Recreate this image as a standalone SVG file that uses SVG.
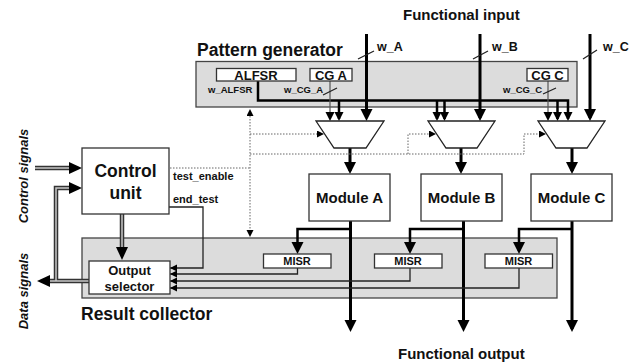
<svg xmlns="http://www.w3.org/2000/svg" width="639" height="364" viewBox="0 0 639 364">
<style>
.t{font-family:"Liberation Sans",Arial,sans-serif;font-weight:bold;fill:#111}
.grp{fill:#dcdcdc;stroke:#444;stroke-width:1.3}
.box{fill:#fff;stroke:#333;stroke-width:1.3}
.mux{fill:#fff;stroke:#222;stroke-width:1.3}
.thick{fill:none;stroke:#000;stroke-width:3}
.bus{fill:none;stroke:#000;stroke-width:2.5}
.thin{fill:none;stroke:#555;stroke-width:1.2}
.wire{fill:none;stroke:#222;stroke-width:1.3}
.dot{fill:none;stroke:#666;stroke-width:1;stroke-dasharray:1.5,1.5}
.dbo{fill:none;stroke:#333;stroke-width:4.5}
.dbi{fill:none;stroke:#c8c8c8;stroke-width:1.5}
</style>
<defs>
<marker id="aL" markerUnits="userSpaceOnUse" markerWidth="13" markerHeight="13" refX="9" refY="6" orient="auto"><path d="M0,0 L12,6 L0,12 z" fill="#000"/></marker>
<marker id="aM" markerUnits="userSpaceOnUse" markerWidth="10" markerHeight="10" refX="7" refY="4.5" orient="auto"><path d="M0,0 L9,4.5 L0,9 z" fill="#000"/></marker>
<marker id="aS" markerUnits="userSpaceOnUse" markerWidth="8" markerHeight="8" refX="7" refY="3.5" orient="auto"><path d="M0,0 L7,3.5 L0,7 z" fill="#000"/></marker>
<marker id="aD" markerUnits="userSpaceOnUse" markerWidth="8" markerHeight="8" refX="0" refY="3.5" orient="auto-start-reverse"><path d="M0,0 L7,3.5 L0,7 z" fill="#000"/></marker>
<marker id="aW" markerUnits="userSpaceOnUse" markerWidth="14" markerHeight="13" refX="0" refY="6" orient="auto"><path d="M0,0 L13,6 L0,12 z" fill="#000"/></marker>
</defs>
<rect width="639" height="364" fill="#fff"/>

<g id="pattern-generator">
<rect class="grp" x="196" y="61.5" width="381" height="45.5"/>
<text class="t" x="197" y="56" font-size="17.5">Pattern generator</text>
</g>
<g id="result-collector">
<rect class="grp" x="82" y="238" width="475" height="60"/>
<text class="t" x="81" y="320" font-size="17.5">Result collector</text>
</g>

<g id="connectors">
<!-- functional inputs -->
<path class="thick" d="M366.5,34 V118" marker-end="url(#aL)"/>
<path class="thick" d="M480,34 V118" marker-end="url(#aL)"/>
<path class="thick" d="M590,34 V118" marker-end="url(#aL)"/>
<path class="wire" d="M358,59 L374,51 M473,59 L488,51 M583,59 L597,50"/>
<!-- ALFSR bus -->
<path class="bus" d="M258,81 V100.5 H568 V119" marker-end="url(#aM)"/>
<path class="bus" d="M339,100.5 V119" marker-end="url(#aM)"/>
<path class="bus" d="M437,100.5 V119" marker-end="url(#aM)"/>
<path class="bus" d="M444.5,100.5 V119" marker-end="url(#aM)"/>
<path class="bus" d="M557.5,100.5 V119" marker-end="url(#aM)"/>
<!-- CG lines -->
<path class="thin" d="M330,81 V119" marker-end="url(#aM)"/>
<path class="thin" d="M548,81 V119" marker-end="url(#aM)"/>
<path class="wire" d="M323,95 L337,88 M543,94 L556,88"/>
<!-- mux outputs -->
<path class="thick" d="M350,148 V171" marker-end="url(#aL)"/>
<path class="thick" d="M461,148 V171" marker-end="url(#aL)"/>
<path class="thick" d="M572,148 V171" marker-end="url(#aL)"/>
<!-- module outputs -->
<path class="thick" d="M350.5,221 V329" marker-end="url(#aL)"/>
<path class="thick" d="M463.5,221 V329" marker-end="url(#aL)"/>
<path class="thick" d="M572,221 V329" marker-end="url(#aL)"/>
<path class="bus" d="M350.5,229 H297.5 V251" marker-end="url(#aL)"/>
<path class="bus" d="M463.5,229 H410 V251" marker-end="url(#aL)"/>
<path class="bus" d="M572,229 H519 V251" marker-end="url(#aL)"/>
<!-- MISR to output selector -->
<path class="wire" d="M297.5,268 V274 H170" marker-end="url(#aS)"/>
<path class="wire" d="M410,268 V281 H170" marker-end="url(#aS)"/>
<path class="wire" d="M519,268 V288 H170" marker-end="url(#aS)"/>
<path class="wire" d="M169,207 H203 V268 H170" marker-end="url(#aS)"/>
<!-- dotted control -->
<path class="dot" d="M250,116 V230" marker-start="url(#aD)" marker-end="url(#aD)"/>
<path class="dot" d="M170,168 H250"/>
<path class="dot" d="M250,134 H317" marker-end="url(#aD)"/>
<path class="dot" d="M250,154 H524 V134 H539" marker-end="url(#aD)"/>
<path class="dot" d="M408,154 V134 H429" marker-end="url(#aD)"/>
<!-- double lines -->
<path class="dbo" d="M35,168 H69" marker-end="url(#aW)"/>
<path class="dbi" d="M35,168 H69"/>
<path class="dbo" d="M56,281 V188 H69" marker-end="url(#aW)"/>
<path class="dbo" d="M89,281 H50" marker-end="url(#aW)"/>
<path class="dbi" d="M56,281 V188 H69"/>
<path class="dbi" d="M89,281 H50"/>
<path class="dbo" d="M122,214 V247" marker-end="url(#aW)"/>
<path class="dbi" d="M122,214 V247"/>
</g>

<g id="alfsr">
<rect class="box" x="216.5" y="68.5" width="79.5" height="12.5"/>
<text class="t" x="256" y="80" font-size="13" text-anchor="middle">ALFSR</text>
<text class="t" x="208" y="93" font-size="9.5">w_ALFSR</text>
</g>
<g id="cg-a">
<rect class="box" x="310" y="68.5" width="42" height="12.5"/>
<text class="t" x="331" y="80" font-size="13" text-anchor="middle">CG A</text>
<text class="t" x="284" y="93" font-size="9.5">w_CG_A</text>
</g>
<g id="cg-c">
<rect class="box" x="527" y="68.5" width="41" height="12.5"/>
<text class="t" x="547.5" y="80" font-size="13" text-anchor="middle">CG C</text>
<text class="t" x="503" y="93" font-size="9.5">w_CG_C</text>
</g>

<g id="mux-a"><polygon class="mux" points="316,121 384,121 366,148 334,148"/></g>
<g id="mux-b"><polygon class="mux" points="428,121 495,121 477,148 446,148"/></g>
<g id="mux-c"><polygon class="mux" points="538,121 605,121 587,148 556,148"/></g>

<g id="module-a"><rect class="box" x="309" y="174" width="81" height="47"/><text class="t" x="349.5" y="203" font-size="15" text-anchor="middle">Module A</text></g>
<g id="module-b"><rect class="box" x="421" y="174" width="81" height="47"/><text class="t" x="461.5" y="203" font-size="15" text-anchor="middle">Module B</text></g>
<g id="module-c"><rect class="box" x="531" y="174" width="81" height="47"/><text class="t" x="571.5" y="203" font-size="15" text-anchor="middle">Module C</text></g>

<g id="misr-a"><rect class="box" x="263.5" y="254" width="67.5" height="14"/><text class="t" x="297" y="265" font-size="11" text-anchor="middle">MISR</text></g>
<g id="misr-b"><rect class="box" x="374.5" y="254" width="67.5" height="14"/><text class="t" x="408" y="265" font-size="11" text-anchor="middle">MISR</text></g>
<g id="misr-c"><rect class="box" x="485" y="254" width="67.5" height="14"/><text class="t" x="518.5" y="265" font-size="11" text-anchor="middle">MISR</text></g>

<g id="control-unit">
<rect class="box" x="82" y="148" width="87" height="66"/>
<text class="t" x="125.5" y="177" font-size="17.5" text-anchor="middle">Control</text>
<text class="t" x="125.5" y="198.5" font-size="17.5" text-anchor="middle">unit</text>
</g>
<g id="output-selector">
<rect class="box" x="89" y="261" width="81" height="33"/>
<text class="t" x="129.5" y="275" font-size="13" text-anchor="middle">Output</text>
<text class="t" x="129.5" y="291" font-size="13" text-anchor="middle">selector</text>
</g>

<g id="labels">
<text class="t" x="403" y="20" font-size="15">Functional input</text>
<text class="t" x="398" y="359" font-size="15">Functional output</text>
<text class="t" x="377" y="51" font-size="12.5">w_A</text>
<text class="t" x="492" y="51" font-size="12.5">w_B</text>
<text class="t" x="603" y="51" font-size="12.5">w_C</text>
<text class="t" x="173" y="180" font-size="11">test_enable</text>
<text class="t" x="173" y="203" font-size="11">end_test</text>
<text class="t" font-size="13" font-style="italic" text-anchor="middle" transform="translate(28,176) rotate(-90)">Control signals</text>
<text class="t" font-size="13" font-style="italic" text-anchor="middle" transform="translate(28,291) rotate(-90)">Data signals</text>
</g>
</svg>
